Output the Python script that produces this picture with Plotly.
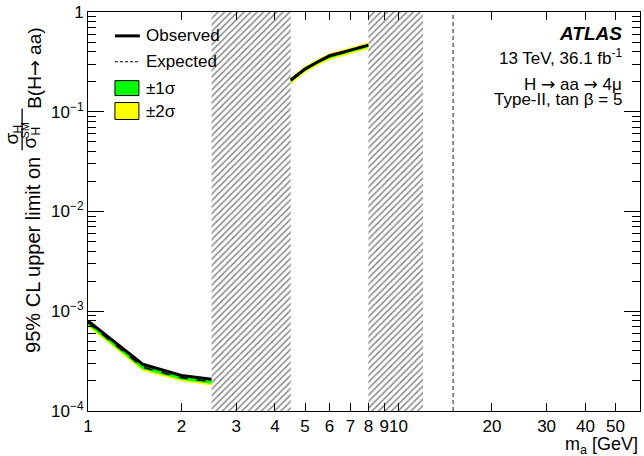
import plotly.graph_objects as go

# ---------------- data ----------------
mass_low = [1.0, 1.5, 2.0, 2.5]
obs_low = [8.0e-4, 2.94e-4, 2.27e-4, 2.08e-4]
exp_low = [7.7e-4, 2.75e-4, 2.15e-4, 1.96e-4]
s1_lo_low = [7.3e-4, 2.62e-4, 2.06e-4, 1.88e-4]
s1_hi_low = [8.0e-4, 2.86e-4, 2.24e-4, 2.04e-4]
s2_lo_low = [7.0e-4, 2.52e-4, 1.98e-4, 1.80e-4]
s2_hi_low = [8.3e-4, 2.96e-4, 2.30e-4, 2.10e-4]

mass_high = [4.5, 5.0, 5.5, 6.0, 7.0, 8.0]
obs_high = [0.208, 0.268, 0.317, 0.364, 0.415, 0.466]
exp_high = [0.205, 0.266, 0.315, 0.358, 0.408, 0.460]
s1_lo_high = [0.197, 0.256, 0.303, 0.344, 0.392, 0.442]
s1_hi_high = [0.213, 0.276, 0.327, 0.372, 0.424, 0.478]
s2_lo_high = [0.189, 0.246, 0.291, 0.331, 0.377, 0.425]
s2_hi_high = [0.221, 0.287, 0.340, 0.386, 0.441, 0.497]

excluded_regions = [(2.5, 4.5), (8.0, 12.0)]
boundary_mass = 15.0

x_ticks = [1, 2, 3, 4, 5, 6, 7, 8, 9, 10, 20, 30, 40, 50]
y_ticks = [1e-4, 1e-3, 1e-2, 1e-1, 1]
y_ticktext = ["10<sup>\u22124</sup>", "10<sup>\u22123</sup>", "10<sup>\u22122</sup>",
              "10<sup>\u22121</sup>", "1"]

Y_MIN, Y_MAX = 1e-4, 1.0
X_RANGE = [0, 1.778]
Y_RANGE = [-4, 0]

FONT = "Liberation Sans, Arial, sans-serif"
GREEN = "#00ff00"
YELLOW = "#ffff00"
ARROW = "<span style='font-family:DejaVu Sans'>\u2192</span>"

fig = go.Figure()

# hatched excluded regions
for lo, hi in excluded_regions:
    fig.add_trace(go.Scatter(
        x=[lo, hi, hi, lo, lo], y=[Y_MIN, Y_MIN, Y_MAX, Y_MAX, Y_MIN],
        mode="lines", fill="toself", line=dict(width=0, color="rgba(0,0,0,0)"),
        fillcolor="rgba(0,0,0,0)",
        fillpattern=dict(shape="/", size=4.6, solidity=0.32, fgcolor="black",
                         bgcolor="rgba(255,255,255,0)"),
        hoverinfo="skip", showlegend=False))

# bands and limit lines
for m, s2lo, s2hi, s1lo, s1hi, ex, ob in [
        (mass_low, s2_lo_low, s2_hi_low, s1_lo_low, s1_hi_low, exp_low, obs_low),
        (mass_high, s2_lo_high, s2_hi_high, s1_lo_high, s1_hi_high, exp_high, obs_high)]:
    fig.add_trace(go.Scatter(x=list(m) + list(m)[::-1], y=list(s2hi) + list(s2lo)[::-1],
                             fill="toself", fillcolor=YELLOW, line=dict(width=0),
                             mode="lines", showlegend=False, hoverinfo="skip"))
    fig.add_trace(go.Scatter(x=list(m) + list(m)[::-1], y=list(s1hi) + list(s1lo)[::-1],
                             fill="toself", fillcolor=GREEN, line=dict(width=0),
                             mode="lines", showlegend=False, hoverinfo="skip"))
    fig.add_trace(go.Scatter(x=m, y=ex, mode="lines",
                             line=dict(color="black", width=1.5, dash="dash"),
                             showlegend=False))
    fig.add_trace(go.Scatter(x=m, y=ob, mode="lines",
                             line=dict(color="black", width=3), showlegend=False))

# vertical dashed boundary
fig.add_trace(go.Scatter(x=[boundary_mass, boundary_mass], y=[Y_MIN, Y_MAX], mode="lines",
                         line=dict(color="#444444", width=1.2, dash="4px,3px"),
                         showlegend=False, hoverinfo="skip"))

# invisible trace to activate mirrored tick axes
fig.add_trace(go.Scatter(x=[boundary_mass], y=[Y_MIN], xaxis="x2", yaxis="y2",
                         mode="markers", marker=dict(opacity=0), showlegend=False,
                         hoverinfo="skip"))

L, R, T, B = 88, 3, 10, 45
W, H = 644, 456
PW, PH = W - L - R, H - T - B


def px(xp):
    return (xp - L) / PW


def py(yp):
    return (H - B - yp) / PH


ann = []
shapes = []


def text(t, x, y, size, xanchor="center", angle=0):
    ann.append(dict(text=t, xref="paper", yref="paper", x=px(x), y=py(y),
                    xanchor=xanchor, yanchor="middle", textangle=angle, showarrow=False,
                    font=dict(size=size, family=FONT, color="black")))


# legend
lx0, lx1 = px(115), px(140)
shapes.append(dict(type="line", xref="paper", yref="paper", x0=lx0, x1=lx1,
                   y0=py(34), y1=py(34), line=dict(color="black", width=3)))
shapes.append(dict(type="line", xref="paper", yref="paper", x0=lx0, x1=lx1,
                   y0=py(60), y1=py(60), line=dict(color="black", width=1.2, dash="3px,2px")))
shapes.append(dict(type="rect", xref="paper", yref="paper", x0=lx0, x1=px(139),
                   y0=py(94), y1=py(79), fillcolor=GREEN, line=dict(color="black", width=1)))
shapes.append(dict(type="rect", xref="paper", yref="paper", x0=lx0, x1=px(139),
                   y0=py(118), y1=py(101), fillcolor=YELLOW, line=dict(color="black", width=1)))
for txt, yy in [("Observed", 34), ("Expected", 60), ("\u00b11\u03c3", 87), ("\u00b12\u03c3", 110)]:
    text(txt, 144, yy, 17, xanchor="left")

# ATLAS labels
text("<b><i>ATLAS</i></b>", 625, 32, 19, xanchor="right")
text("13 TeV, 36.1 fb<sup>-1</sup>", 625, 55, 17, xanchor="right")
text("H " + ARROW + " aa " + ARROW + " 4\u03bc", 625, 82, 17, xanchor="right")
text("Type-II, tan \u03b2 = 5", 625, 98, 17, xanchor="right")

# y-axis title pieces (rotated)
text("95% CL upper limit on", 33, 254, 20, angle=-90)
text("\u03c3", 11, 137, 19, angle=-90)
text("H", 18, 128, 12, angle=-90)
shapes.append(dict(type="line", xref="paper", yref="paper", x0=px(22), x1=px(22),
                   y0=py(149), y1=py(107), line=dict(color="black", width=1.3)))
text("\u03c3", 29, 141, 19, angle=-90)
text("SM", 25, 129, 11, angle=-90)
text("H", 36, 130, 12, angle=-90)
text("B(H" + ARROW + " aa)", 34, 67, 19, angle=-90)

# x-axis title
text("m<sub>a</sub> [GeV]", 641, 446, 18, xanchor="right")

tickfont = dict(size=17, family=FONT, color="black")
fig.update_layout(
    width=W, height=H, margin=dict(l=L, r=R, t=T, b=B),
    paper_bgcolor="white", plot_bgcolor="white",
    font=dict(family=FONT, size=17, color="black"),
    showlegend=False, annotations=ann, shapes=shapes,
    xaxis=dict(type="log", range=X_RANGE, tickvals=x_ticks,
               ticktext=[str(v) for v in x_ticks], tickangle=0,
               ticks="inside", ticklen=8, tickcolor="black", showgrid=False,
               showline=True, linecolor="black", linewidth=1, mirror=True,
               zeroline=False, tickfont=tickfont),
    yaxis=dict(type="log", range=Y_RANGE, tickvals=y_ticks, ticktext=y_ticktext,
               ticks="inside", ticklen=16, tickcolor="black", showgrid=False,
               showline=True, linecolor="black", linewidth=1, mirror=True,
               zeroline=False, tickfont=tickfont,
               minor=dict(ticks="inside", ticklen=8, dtick="D1", tickcolor="black",
                          showgrid=False)),
    xaxis2=dict(type="log", range=X_RANGE, tickvals=x_ticks, overlaying="x", side="top",
                anchor="y", showticklabels=False, ticks="inside", ticklen=8,
                tickcolor="black", showgrid=False, showline=False, zeroline=False),
    yaxis2=dict(type="log", range=Y_RANGE, tickvals=y_ticks, overlaying="y", side="right",
                anchor="x", showticklabels=False, ticks="inside", ticklen=16,
                tickcolor="black", showgrid=False, showline=False, zeroline=False,
                minor=dict(ticks="inside", ticklen=8, dtick="D1", tickcolor="black",
                           showgrid=False)),
)

fig.write_html("out.html")
